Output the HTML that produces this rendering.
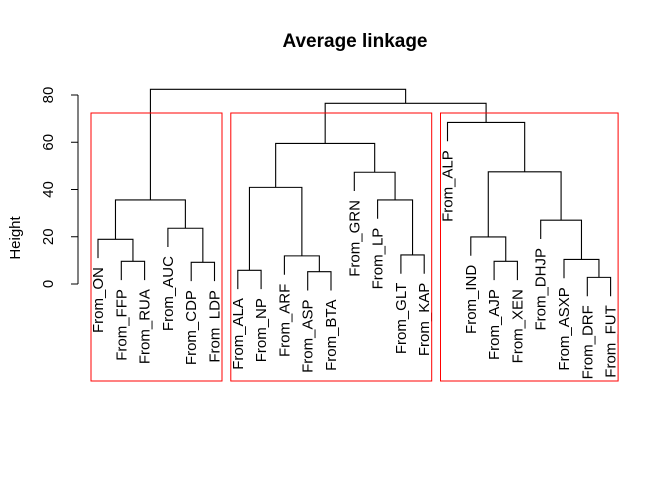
<!DOCTYPE html>
<html><head><meta charset="utf-8"><style>
html,body{margin:0;padding:0;background:#fff;}
svg text{font-family:"Liberation Sans",Arial,sans-serif;}
</style></head><body>
<svg id="chart" width="672" height="480" viewBox="0 0 672 480">
<text x="355" y="47" text-anchor="middle" font-size="19" font-weight="bold">Average linkage</text>
<text transform="translate(20,238) rotate(-90)" text-anchor="middle" font-size="15">Height</text>
<g id="axis"></g>
<g id="tree"></g>
<g id="labels"></g>
<g id="rects"></g>
</svg>
<script>
const leafLabels = ["From_ON","From_FFP","From_RUA","From_AUC","From_CDP","From_LDP","From_ALA","From_NP","From_ARF","From_ASP","From_BTA","From_GRN","From_LP","From_GLT","From_KAP","From_ALP","From_IND","From_AJP","From_XEN","From_DHJP","From_ASXP","From_DRF","From_FUT"];
// merges: negative = leaf (-(index+1)), positive = merge index+1 (R style)
const mergeLeft  = [-2, -1, -5, -4, 2, -7, -10, -9, 6, -14, -13, -12, 9, -18, -17, -22, -21, -20, 15, -16, 13, 5];
const mergeRight = [-3,  1, -6,  3, 4, -8, -11,  7, 8, -15,  10,  11, 12, -19,  14, -23,  16,  17, 18,  19, 20, 21];
const mergeHeights = [9.6, 18.9, 9.2, 23.6, 35.6, 5.8, 5.2, 11.9, 40.9, 12.3, 35.6, 47.3, 59.5, 9.6, 19.9, 2.8, 10.4, 27.0, 47.5, 68.4, 76.5, 82.4];
const yTicks = [0, 20, 40, 60, 80];
const clusterFirst = [0, 6, 15];
const clusterLast = [5, 14, 22];

const NS = "http://www.w3.org/2000/svg";
const xLeaf = i => 98 + i * 23.3;
const yH = h => 284 - h * 2.3625;
const hang = 0.1 * (Math.max(...mergeHeights) - Math.min(...mergeHeights));
function mk(tag, attrs, parent){const e=document.createElementNS(NS,tag);for(const k in attrs)e.setAttribute(k,attrs[k]);parent.appendChild(e);return e;}

// axis
const ax = document.getElementById("axis");
const axl = mk("line",{x1:78,x2:78,y1:yH(yTicks[0]),y2:yH(yTicks[yTicks.length-1]),stroke:"#000"},ax);


yTicks.forEach(t=>{
  const tl = mk("line",{x1:71,x2:78,y1:yH(t),y2:yH(t),stroke:"#000"},ax);
  
  
  const tx = mk("text",{transform:`translate(53,${yH(t)}) rotate(-90)`,"text-anchor":"middle","font-size":"15"},ax);
  tx.textContent = t;
  
  
});

// tree
const tree = document.getElementById("tree");
const mx = [];
function nodeX(r){return r<0 ? xLeaf(-r-1) : mx[r-1];}
function nodeTop(r){return r<0 ? null : mergeHeights[r-1];}
for(let m=0;m<mergeHeights.length;m++){
  const a=mergeLeft[m], b=mergeRight[m], h=mergeHeights[m];
  const xa=nodeX(a), xb=nodeX(b);
  mx[m]=(xa+xb)/2;
  const ya = a<0 ? yH(h-hang) : yH(nodeTop(a));
  const yb = b<0 ? yH(h-hang) : yH(nodeTop(b));
  const p = mk("path",{d:`M${xa},${ya}V${yH(h)}H${xb}V${yb}`,fill:"none",stroke:"#000","stroke-width":1.1},tree);
  
  
  [[a,xa],[b,xb]].forEach(([r,x])=>{
    if(r<0){
      const t = mk("text",{transform:`translate(${x+5},${yH(h-hang)+9}) rotate(-90)`,"text-anchor":"end","font-size":"15"},document.getElementById("labels"));
      t.textContent = leafLabels[-r-1];
      
      
    }
  });
}

// cluster rectangles
const rg = document.getElementById("rects");
clusterFirst.forEach((f,i)=>{
  const x1 = xLeaf(f)-7, x2 = xLeaf(clusterLast[i])+7.5;
  const r = mk("rect",{x:x1,y:113,width:x2-x1,height:268,fill:"none",stroke:"#ff0000","stroke-width":1},rg);
  
  
});
</script>
</body></html>
